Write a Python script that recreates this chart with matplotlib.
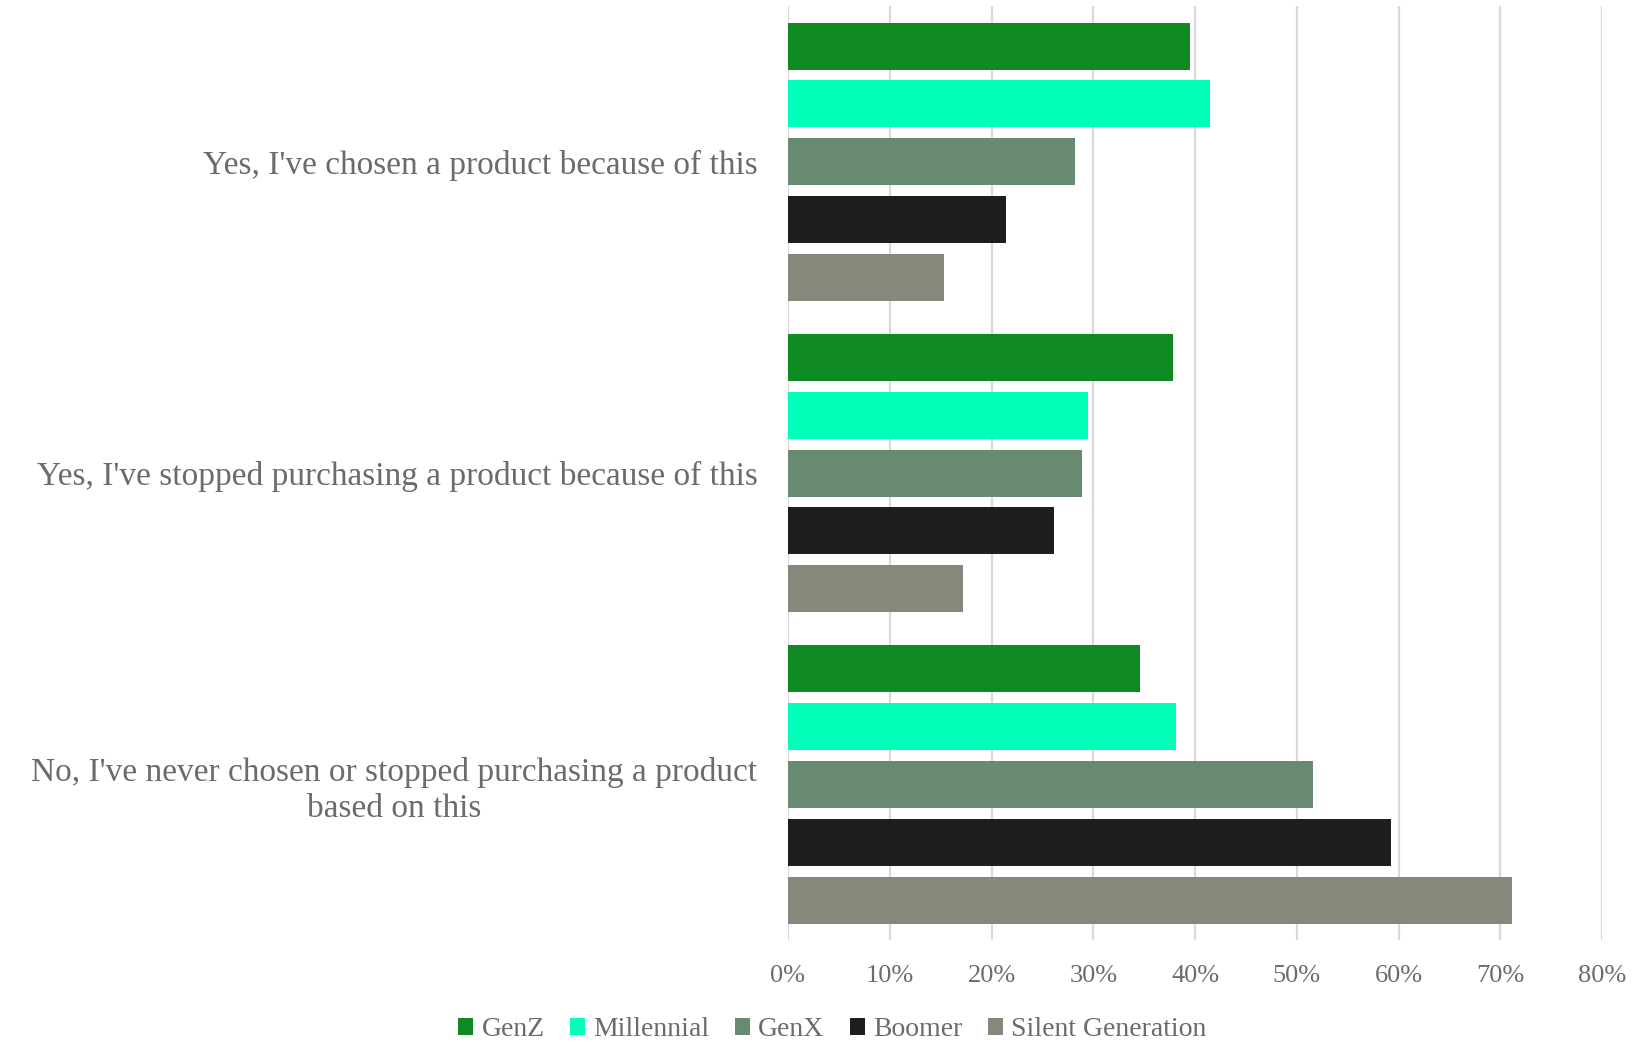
import numpy as np
import matplotlib
matplotlib.use("Agg")
from matplotlib import pyplot as plt
from matplotlib.ticker import PercentFormatter

answers = [
    "Yes, I've chosen a product because of this",
    "Yes, I've stopped purchasing a product because of this",
    "No, I've never chosen or stopped purchasing a product\nbased on this",
]
generations = ["GenZ", "Millennial", "GenX", "Boomer", "Silent Generation"]

genz = [39.5, 37.8, 34.6]
millennial = [41.5, 29.5, 38.1]
genx = [28.2, 28.9, 51.6]
boomer = [21.4, 26.1, 59.2]
silent = [15.3, 17.2, 71.1]

colors = ["#0f8a23", "#00ffb9", "#688a70", "#1e1e1e", "#84897c"]
text_color = "#6b6b6b"

plt.rcParams["font.family"] = ["Liberation Serif", "DejaVu Serif"]

fig = plt.figure(figsize=(16.45, 10.42), dpi=100)
ax = fig.add_axes([0.479, 0.098, 0.495, 0.896])

series = [genz, millennial, genx, boomer, silent]
pitch = 0.186
bar_h = 0.151
y = np.arange(len(answers))
for j, (vals, name, col) in enumerate(zip(series, generations, colors)):
    ax.barh(y + (j - 2) * pitch, vals, height=bar_h, color=col, label=name, zorder=3)

ax.set_xlim(0, 80)
ax.set_ylim(2.5, -0.5)
ax.set_xticks(np.arange(0, 81, 10))
ax.xaxis.set_major_formatter(PercentFormatter(decimals=0))
ax.set_yticks(y)
ax.set_yticklabels(answers)
for lab in ax.get_yticklabels():
    lab.set_multialignment("center")
    lab.set_linespacing(1.25)

ax.grid(axis="x", color="#d9d9d9", linewidth=1.6, zorder=0)
for s in ax.spines.values():
    s.set_visible(False)
ax.tick_params(axis="both", length=0, colors=text_color)
ax.tick_params(axis="y", labelsize=24, pad=22)
ax.tick_params(axis="x", labelsize=19, pad=18)

leg = fig.legend(loc="center", bbox_to_anchor=(0.506, 0.012), ncol=5, frameon=False,
                 fontsize=20, handlelength=0.55, handleheight=0.55, handletextpad=0.3,
                 columnspacing=0.9, borderaxespad=0)
for t in leg.get_texts():
    t.set_color(text_color)

fig.savefig("out.png", dpi=100)
plt.close(fig)
